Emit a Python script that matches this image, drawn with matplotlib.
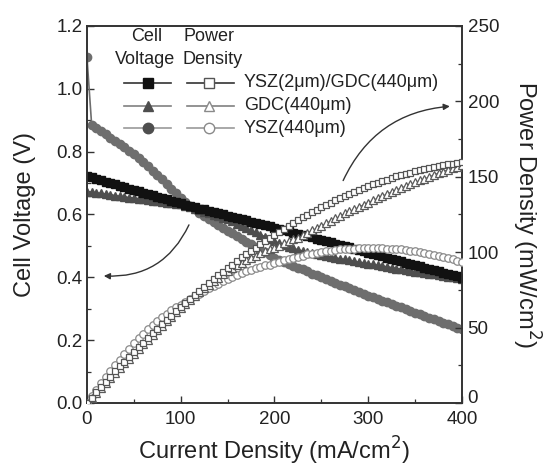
import matplotlib
matplotlib.use("Agg")
import matplotlib.pyplot as plt
from matplotlib.ticker import MultipleLocator
from matplotlib.lines import Line2D
import matplotlib.transforms as mtransforms

plt.rcParams['font.family'] = ['Liberation Sans', 'DejaVu Sans']

# ---------------- data ----------------
current = list(range(0, 405, 5))  # mA/cm2

v_yszgdc = [0.723, 0.718, 0.714, 0.709, 0.705, 0.700, 0.696, 0.691, 0.687, 0.682,
            0.678, 0.674, 0.669, 0.665, 0.661, 0.656, 0.652, 0.648, 0.644, 0.639,
            0.635, 0.631, 0.627, 0.623, 0.619, 0.616, 0.612, 0.608, 0.604, 0.600,
            0.596, 0.592, 0.588, 0.585, 0.581, 0.577, 0.573, 0.569, 0.565, 0.562,
            0.558, 0.554, 0.550, 0.546, 0.542, 0.539, 0.535, 0.531, 0.527, 0.523,
            0.519, 0.515, 0.511, 0.507, 0.503, 0.499, 0.495, 0.491, 0.487, 0.483,
            0.479, 0.475, 0.471, 0.467, 0.463, 0.459, 0.455, 0.451, 0.447, 0.443,
            0.439, 0.435, 0.431, 0.427, 0.423, 0.419, 0.415, 0.411, 0.407, 0.403,
            0.399]

v_gdc = [0.673, 0.671, 0.669, 0.667, 0.665, 0.663, 0.660, 0.658, 0.656, 0.654,
         0.652, 0.650, 0.648, 0.646, 0.644, 0.642, 0.640, 0.638, 0.636, 0.634,
         0.632, 0.627, 0.623, 0.618, 0.613, 0.609, 0.604, 0.599, 0.594, 0.590,
         0.585, 0.578, 0.571, 0.564, 0.557, 0.550, 0.543, 0.536, 0.529, 0.522,
         0.515, 0.509, 0.504, 0.498, 0.493, 0.487, 0.484, 0.480, 0.477, 0.473,
         0.470, 0.467, 0.465, 0.462, 0.459, 0.457, 0.454, 0.451, 0.448, 0.446,
         0.443, 0.441, 0.438, 0.436, 0.433, 0.431, 0.428, 0.426, 0.423, 0.421,
         0.418, 0.416, 0.413, 0.411, 0.409, 0.407, 0.404, 0.402, 0.400, 0.397,
         0.395]

v_ysz = [1.100, 0.885, 0.875, 0.865, 0.855, 0.845, 0.835, 0.824, 0.814, 0.803,
         0.792, 0.780, 0.767, 0.754, 0.740, 0.726, 0.712, 0.697, 0.682, 0.667,
         0.652, 0.639, 0.627, 0.616, 0.605, 0.595, 0.585, 0.575, 0.565, 0.557,
         0.549, 0.540, 0.532, 0.523, 0.514, 0.505, 0.496, 0.488, 0.480, 0.471,
         0.463, 0.456, 0.450, 0.444, 0.437, 0.431, 0.425, 0.419, 0.412, 0.406,
         0.400, 0.394, 0.388, 0.383, 0.377, 0.371, 0.365, 0.359, 0.354, 0.348,
         0.342, 0.337, 0.331, 0.326, 0.320, 0.315, 0.309, 0.304, 0.298, 0.293,
         0.287, 0.282, 0.276, 0.271, 0.266, 0.260, 0.255, 0.250, 0.245, 0.239,
         0.234]

p_yszgdc = [0.0, 3.6, 7.1, 10.6, 14.1, 17.5, 20.9, 24.2, 27.5, 30.7,
            33.9, 37.1, 40.1, 43.2, 46.3, 49.2, 52.2, 55.1, 58.0, 60.7,
            63.5, 66.3, 69.0, 71.6, 74.3, 77.0, 79.6, 82.1, 84.6, 87.0,
            89.4, 91.8, 94.1, 96.5, 98.8, 101.0, 103.1, 105.3, 107.4, 109.6,
            111.6, 113.6, 115.5, 117.4, 119.2, 121.3, 123.1, 124.8, 126.5, 128.1,
            129.8, 131.3, 132.9, 134.4, 135.8, 137.2, 138.6, 139.9, 141.2, 142.5,
            143.7, 144.9, 146.0, 147.1, 148.2, 149.2, 150.2, 151.1, 152.0, 152.8,
            153.7, 154.4, 155.2, 155.9, 156.5, 157.1, 157.7, 158.2, 158.7, 159.2,
            159.6]

p_gdc = [0.0, 3.4, 6.7, 10.0, 13.3, 16.6, 19.8, 23.0, 26.2, 29.4,
         32.6, 35.8, 38.9, 42.0, 45.1, 48.2, 51.2, 54.2, 57.2, 60.2,
         63.2, 65.8, 68.5, 71.1, 73.6, 76.1, 78.5, 80.9, 83.2, 85.6,
         87.8, 89.6, 91.4, 93.1, 94.7, 96.3, 97.7, 99.2, 100.5, 101.8,
         103.0, 104.3, 105.8, 107.1, 108.5, 109.6, 111.3, 112.8, 114.5, 115.9,
         117.5, 119.1, 120.9, 122.4, 123.9, 125.7, 127.1, 128.5, 129.9, 131.6,
         132.9, 134.5, 135.8, 137.3, 138.6, 140.1, 141.2, 142.7, 143.8, 145.2,
         146.3, 147.7, 148.7, 150.0, 151.3, 152.6, 153.5, 154.8, 156.0, 156.8,
         158.0]

p_ysz = [0.0, 4.4, 8.8, 13.0, 17.1, 21.1, 25.1, 28.8, 32.6, 36.1,
         39.6, 42.9, 46.0, 49.0, 51.8, 54.5, 57.0, 59.2, 61.4, 63.4,
         65.2, 67.1, 69.0, 70.8, 72.6, 74.4, 76.1, 77.6, 79.1, 80.8,
         82.4, 83.7, 85.1, 86.3, 87.4, 88.4, 89.3, 90.3, 91.2, 91.8,
         92.6, 93.5, 94.5, 95.5, 96.1, 97.0, 97.8, 98.5, 98.9, 99.5,
         100.0, 100.5, 100.9, 101.5, 101.8, 102.0, 102.2, 102.3, 102.7, 102.7,
         102.6, 102.8, 102.6, 102.7, 102.4, 102.4, 102.0, 101.8, 101.3, 101.1,
         100.5, 100.1, 99.4, 98.9, 98.4, 97.5, 96.9, 96.3, 95.6, 94.4,
         93.6]

series_labels = ['YSZ(2\u03bcm)/GDC(440\u03bcm)', 'GDC(440\u03bcm)', 'YSZ(440\u03bcm)']
x_ticks = [0, 100, 200, 300, 400]
v_ticks = [0.0, 0.2, 0.4, 0.6, 0.8, 1.0, 1.2]
p_ticks = [0, 50, 100, 150, 200, 250]

# ---------------- figure ----------------
fig = plt.figure(figsize=(5.47, 4.71), dpi=100)
ax = fig.add_axes([0.159, 0.1444, 0.6856, 0.8004])
ax2 = ax.twinx()

spine_c = '#333333'
ms_v = 6.0
ms_p = 5.4

# voltage (filled markers)
ax.plot(current, v_ysz, color='#6e6e6e', lw=1.2, marker='o', ms=ms_v,
        mfc='#6e6e6e', mec='#6e6e6e', zorder=3)
ax.plot(current, v_gdc, color='#4e4e4e', lw=1.2, marker='^', ms=ms_v,
        mfc='#4e4e4e', mec='#4e4e4e', zorder=4)
ax.plot(current, v_yszgdc, color='#111111', lw=1.2, marker='s', ms=ms_v - 0.6,
        mfc='#111111', mec='#111111', zorder=5)

# power (open markers)
ax2.plot(current, p_ysz, color='#8a8a8a', lw=0.6, marker='o', ms=ms_p,
         mfc='white', mec='#8a8a8a', mew=0.9, zorder=3)
ax2.plot(current, p_gdc, color='#5a5a5a', lw=0.6, marker='^', ms=ms_p,
         mfc='white', mec='#5a5a5a', mew=0.9, zorder=4)
ax2.plot(current, p_yszgdc, color='#555555', lw=0.6, marker='s', ms=ms_p - 0.5,
         mfc='white', mec='#555555', mew=0.9, zorder=5)

ax.set_xlim(0, 400)
ax.set_ylim(0, 1.2)
ax2.set_ylim(0, 250)

ax.set_xticks(x_ticks)
ax.set_yticks(v_ticks)
ax.set_yticklabels([f'{t:.1f}' for t in v_ticks])
ax2.set_yticks(p_ticks)
ax.xaxis.set_minor_locator(MultipleLocator(50))
ax.yaxis.set_minor_locator(MultipleLocator(0.1))
ax2.yaxis.set_minor_locator(MultipleLocator(25))

for a in (ax, ax2):
    for s in a.spines.values():
        s.set_color(spine_c)
        s.set_linewidth(1.2)
ax.tick_params(axis='y', which='major', direction='in', length=5, width=1.0,
               labelsize=13.5, colors=spine_c, labelcolor='#222222', pad=3)
ax.tick_params(axis='x', which='major', direction='in', length=5, width=1.0,
               labelsize=13.5, colors=spine_c, labelcolor='#222222', pad=6)
ax.tick_params(axis='both', which='minor', direction='in', length=3, width=0.9,
               colors=spine_c)
ax2.tick_params(axis='y', which='major', direction='in', length=5, width=1.0,
                labelsize=13.5, colors=spine_c, labelcolor='#222222', pad=4)
ax2.tick_params(axis='y', which='minor', direction='in', length=3, width=0.9,
                colors=spine_c)

# lift the right-axis "0" slightly, as in the reference
fig.canvas.draw()
zero_lab = ax2.get_yticklabels()[0]
zero_lab.set_transform(zero_lab.get_transform() +
                       mtransforms.ScaledTranslation(0, 5 / 72, fig.dpi_scale_trans))

ax.set_xlabel('Current Density (mA/cm$^2$)', fontsize=17, color='#222222', labelpad=5)
ax.set_ylabel('Cell Voltage (V)', fontsize=17, color='#222222', labelpad=15)
ax2.set_ylabel('Power Density (mW/cm$^2$)', fontsize=17, color='#222222',
               rotation=270, labelpad=31)

# curved arrows
ax.annotate('', xy=(15, 0.405), xytext=(110, 0.575),
            arrowprops=dict(arrowstyle='-|>', color='#333333', lw=1.0,
                            mutation_scale=9, connectionstyle='arc3,rad=-0.35'))
ax.annotate('', xy=(390, 0.945), xytext=(272, 0.70),
            arrowprops=dict(arrowstyle='-|>', color='#333333', lw=1.0,
                            mutation_scale=9, connectionstyle='arc3,rad=-0.3'))

# custom legend
tr = ax.transAxes
ax.text(0.159, 0.972, 'Cell', transform=tr, ha='center', va='center', fontsize=13, color='#222222')
ax.text(0.326, 0.972, 'Power', transform=tr, ha='center', va='center', fontsize=13, color='#222222')
ax.text(0.154, 0.910, 'Voltage', transform=tr, ha='center', va='center', fontsize=13, color='#222222')
ax.text(0.335, 0.910, 'Density', transform=tr, ha='center', va='center', fontsize=13, color='#222222')

rows_y = [0.850, 0.788, 0.729]
fill_markers = ['s', '^', 'o']
fill_colors = ['#111111', '#4e4e4e', '#4e4e4e']
line_colors = ['#333333', '#808080', '#9a9a9a']
open_colors = ['#555555', '#8a8a8a', '#8a8a8a']
for y, mk, fc, lc, oc, lab in zip(rows_y, fill_markers, fill_colors, line_colors,
                                  open_colors, series_labels):
    ax.add_line(Line2D([0.098, 0.224], [y, y], transform=tr, color=lc, lw=1.2, zorder=6))
    ax.add_line(Line2D([0.163], [y], transform=tr, marker=mk, ms=7.5, mfc=fc,
                       mec=fc, ls='none', zorder=7))
    ax.add_line(Line2D([0.266, 0.391], [y, y], transform=tr, color=lc, lw=1.2, zorder=6))
    ax.add_line(Line2D([0.326], [y], transform=tr, marker=mk, ms=7.5, mfc='white',
                       mec=oc, mew=1.0, ls='none', zorder=7))
    ax.text(0.419, y, lab, transform=tr, ha='left', va='center', fontsize=13, color='#222222')

fig.savefig('out.png', dpi=100)
